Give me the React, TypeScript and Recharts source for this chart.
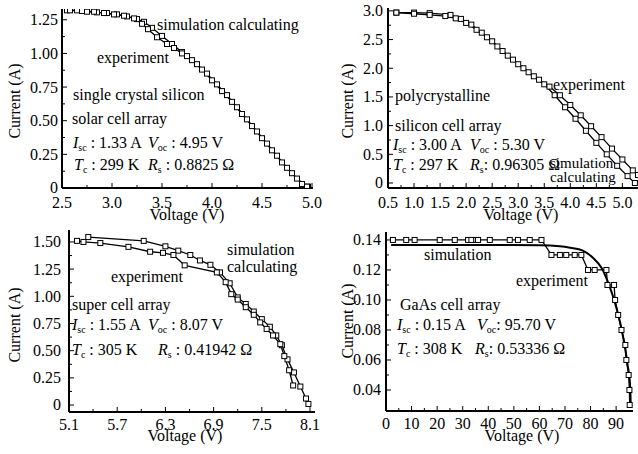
import React from "react";
import { LineChart, Line, XAxis, YAxis } from "recharts";

// single crystal silicon
const monoSimV = [2.55, 2.65, 2.75, 2.85, 2.95, 3.05, 3.15, 3.25, 3.32, 3.4, 3.5, 3.6, 3.7, 3.8, 3.9, 4.0, 4.1, 4.2, 4.3, 4.4, 4.5, 4.6, 4.7, 4.8, 4.9, 4.96];
const monoSimI = [1.32, 1.32, 1.31, 1.305, 1.3, 1.29, 1.275, 1.255, 1.235, 1.19, 1.13, 1.07, 1.01, 0.95, 0.88, 0.8, 0.72, 0.64, 0.55, 0.46, 0.37, 0.28, 0.19, 0.11, 0.03, 0.01];
const monoExpV = [2.58, 2.7, 2.82, 2.92, 3.02, 3.12, 3.22, 3.3, 3.36, 3.45, 3.55, 3.62, 3.7, 3.75, 3.85, 3.95, 4.05, 4.15, 4.25, 4.35, 4.45, 4.55, 4.65, 4.75, 4.85, 4.95];
const monoExpI = [1.32, 1.315, 1.31, 1.3, 1.29, 1.28, 1.26, 1.22, 1.18, 1.12, 1.07, 1.04, 1.0, 0.98, 0.92, 0.85, 0.77, 0.69, 0.6, 0.51, 0.42, 0.33, 0.24, 0.15, 0.07, 0.01];

// polycrystalline silicon
const polySimV = [0.66, 1.0, 1.3, 1.7, 1.9, 2.1, 2.3, 2.5, 2.7, 2.9, 3.1, 3.3, 3.5, 3.7, 3.9, 4.1, 4.3, 4.5, 4.7, 4.9, 5.1, 5.24];
const polySimI = [2.97, 2.97, 2.96, 2.93, 2.86, 2.76, 2.62, 2.47, 2.3, 2.15, 2.0, 1.86, 1.72, 1.53, 1.32, 1.12, 0.91, 0.7, 0.5, 0.3, 0.12, 0.0];
const polyExpV = [0.66, 1.0, 1.3, 1.6, 1.8, 2.0, 2.2, 2.4, 2.6, 2.8, 3.0, 3.2, 3.4, 3.6, 3.8, 4.0, 4.2, 4.4, 4.6, 4.8, 5.0, 5.2, 5.3];
const polyExpI = [2.97, 2.95, 2.93, 2.91, 2.87, 2.79, 2.67, 2.54, 2.38, 2.22, 2.07, 1.93, 1.8, 1.68, 1.53, 1.36, 1.18, 0.99, 0.8, 0.6, 0.41, 0.22, 0.14];

// super cell
const superSimV = [5.34, 6.03, 6.3, 6.46, 6.61, 6.73, 6.86, 6.98, 7.1, 7.2, 7.3, 7.4, 7.5, 7.6, 7.68, 7.75, 7.82, 7.9, 7.98, 8.05, 8.08];
const superSimI = [1.545, 1.51, 1.46, 1.42, 1.38, 1.33, 1.29, 1.22, 1.12, 0.99, 0.93, 0.86, 0.79, 0.72, 0.64, 0.55, 0.42, 0.3, 0.17, 0.06, 0.01];
const superExpV = [5.2, 5.28, 5.49, 5.84, 6.11, 6.27, 6.4, 6.54, 6.94, 7.05, 7.12, 7.2, 7.3, 7.4, 7.48, 7.56, 7.64, 7.73, 7.78, 7.84, 7.89];
const superExpI = [1.51, 1.5, 1.49, 1.455, 1.41, 1.4, 1.38, 1.285, 1.22, 1.13, 1.02, 0.97, 0.9, 0.83, 0.76, 0.7, 0.64, 0.56, 0.45, 0.32, 0.18];

// GaAs
const gaasSimV = [2, 20, 40, 60, 68, 72, 77, 81, 84.4, 87, 89.6, 92.2, 94.4, 95.5, 95.7];
const gaasSimI = [0.1367, 0.1367, 0.1367, 0.1365, 0.1358, 0.1348, 0.1329, 0.128, 0.1211, 0.111, 0.0978, 0.08, 0.0578, 0.042, 0.031];
const gaasExpV = [2.7, 7.9, 11.2, 21, 26.9, 32.1, 33.4, 35.3, 36, 40.6, 48.4, 51.6, 56.2, 60.8, 64.7, 68, 70.5, 73.8, 76.4, 79, 81.6, 86.2, 86.6, 89.2, 89.6, 90.8, 92.1, 93.6, 94, 94.9, 95.2, 95.3];
const gaasExpI = [0.14, 0.14, 0.14, 0.14, 0.14, 0.14, 0.14, 0.14, 0.14, 0.14, 0.14, 0.14, 0.14, 0.14, 0.13, 0.13, 0.13, 0.13, 0.13, 0.12, 0.12, 0.12, 0.11, 0.11, 0.1, 0.09, 0.08, 0.07, 0.06, 0.05, 0.04, 0.03];

// tick values and labels
const monoXTicks = [2.5, 3.0, 3.5, 4.0, 4.5, 5.0];
const monoXLabels = ["2.5", "3.0", "3.5", "4.0", "4.5", "5.0"];
const monoYTicks = [0, 0.25, 0.5, 0.75, 1.0, 1.25];
const monoYLabels = ["0", "0.25", "0.50", "0.75", "1.00", "1.25"];

const polyXTicks = [0.5, 1.0, 1.5, 2.0, 2.5, 3.0, 3.5, 4.0, 4.5, 5.0];
const polyXLabels = ["0.5", "1.0", "1.5", "2.0", "2.5", "3.0", "3.5", "4.0", "4.5", "5.0"];
const polyYTicks = [0, 0.5, 1.0, 1.5, 2.0, 2.5, 3.0];
const polyYLabels = ["0", "0.5", "1.0", "1.5", "2.0", "2.5", "3.0"];

const superXTicks = [5.1, 5.7, 6.3, 6.9, 7.5, 8.1];
const superXLabels = ["5.1", "5.7", "6.3", "6.9", "7.5", "8.1"];
const superYTicks = [0, 0.25, 0.5, 0.75, 1.0, 1.25, 1.5];
const superYLabels = ["0", "0.25", "0.50", "0.75", "1.00", "1.25", "1.50"];

const gaasXTicks = [0, 10, 20, 30, 40, 50, 60, 70, 80, 90];
const gaasXLabels = ["0", "10", "20", "30", "40", "50", "60", "70", "80", "90"];
const gaasYTicks = [0.04, 0.06, 0.08, 0.1, 0.12, 0.14];
const gaasYLabels = ["0.04", "0.06", "0.08", "0.10", "0.12", "0.14"];

const FONT = "'Liberation Serif', 'DejaVu Serif', serif";

type Pt = { v: number; i: number };
const zip = (vs: number[], is: number[]): Pt[] => vs.map((v, k) => ({ v, i: is[k] }));

// majors plus a minor tick half way between each pair
const withMinor = (majors: number[]) => {
    const out: number[] = [];
    majors.forEach((m, k) => {
        out.push(m);
        if (k < majors.length - 1) out.push(+((m + majors[k + 1]) / 2).toFixed(4));
    });
    return out;
};

const txt = { fontFamily: FONT };

function XTick(props: any) {
    const { x, y, payload, majors, labels, gap } = props;
    const idx = majors.indexOf(payload.value);
    const axisY = y - gap;
    const len = idx >= 0 ? 5 : 3;
    return (
        <g>
            <line x1={x} x2={x} y1={axisY} y2={axisY - len} stroke="#000" strokeWidth={1} />
            {idx >= 0 && (
                <text x={x} y={y} dy="0.72em" textAnchor="middle" style={txt} fontSize={16} fill="#000">
                    {labels[idx]}
                </text>
            )}
        </g>
    );
}

function YTick(props: any) {
    const { x, y, payload, majors, labels, gap } = props;
    const idx = majors.indexOf(payload.value);
    const axisX = x + gap;
    const len = idx >= 0 ? 5 : 3;
    return (
        <g>
            <line x1={axisX} x2={axisX + len} y1={y} y2={y} stroke="#000" strokeWidth={1} />
            {idx >= 0 && (
                <text x={x} y={y} dy="0.34em" textAnchor="end" style={txt} fontSize={16} fill="#000">
                    {labels[idx]}
                </text>
            )}
        </g>
    );
}

const squareDot = (p: any) => (
    <rect key={p.index} x={p.cx - 2.5} y={p.cy - 2.5} width={5} height={5} fill="#fff" stroke="#000" strokeWidth={1} />
);

interface Series {
    data: Pt[];
    dots: boolean;
    width?: number;
}

interface PanelProps {
    left: number;
    top: number;
    plot: [number, number, number, number]; // x0, y0, x1, y1 inside the panel
    xDomain: [number, number];
    yDomain: [number, number];
    xTicks: number[];
    xLabels: string[];
    yTicks: number[];
    yLabels: string[];
    xGap: number;
    yGap: number;
    series: Series[];
}

const W = 320;
const H = 227;

function Panel({ left, top, plot, xDomain, yDomain, xTicks, xLabels, yTicks, yLabels, xGap, yGap, series }: PanelProps) {
    const [x0, y0, x1, y1] = plot;
    const xAll = withMinor(xTicks).filter((t) => t <= xDomain[1]);
    const yAll = withMinor(yTicks).filter((t) => t <= yDomain[1]);
    return (
        <div style={{ position: "absolute", left, top, width: W, height: H }}>
            <LineChart width={W} height={H} margin={{ top: y0, right: W - x1, left: 0, bottom: 0 }}>
                <XAxis
                    type="number"
                    dataKey="v"
                    domain={xDomain}
                    ticks={xAll}
                    interval={0}
                    allowDataOverflow
                    height={H - y1}
                    tickSize={0}
                    tickMargin={xGap}
                    axisLine={{ stroke: "#000", strokeWidth: 2 }}
                    tick={<XTick majors={xTicks} labels={xLabels} gap={xGap} />}
                />
                <YAxis
                    type="number"
                    dataKey="i"
                    domain={yDomain}
                    ticks={yAll}
                    interval={0}
                    allowDataOverflow
                    width={x0}
                    tickSize={0}
                    tickMargin={yGap}
                    axisLine={{ stroke: "#000", strokeWidth: 2 }}
                    tick={<YTick majors={yTicks} labels={yLabels} gap={yGap} />}
                />
                {series.map((s, k) => (
                    <Line
                        key={k}
                        data={s.data}
                        dataKey="i"
                        type={s.dots ? "linear" : "monotone"}
                        stroke="#000"
                        strokeWidth={s.width ?? 1.3}
                        dot={s.dots ? squareDot : false}
                        activeDot={false}
                        isAnimationActive={false}
                    />
                ))}
            </LineChart>
        </div>
    );
}

// a symbol with subscript, e.g. Isc, then its value; the second pair starts at x2
function Params(props: { x: number; x2: number; y: number; a: string; b: string; c: string; d: string }) {
    const { x, x2, y, a, b, c, d } = props;
    return (
        <text y={y} fontSize={16} style={{ ...txt, whiteSpace: "pre" }}>
            <tspan x={x} fontStyle="italic">{a[0]}</tspan>
            <tspan fontSize={10} dy={3}>{a.slice(1)}</tspan>
            <tspan dy={-3}>{b}</tspan>
            <tspan x={x2} fontStyle="italic">{c[0]}</tspan>
            <tspan fontSize={10} dy={3}>{c.slice(1)}</tspan>
            <tspan dy={-3}>{d}</tspan>
        </text>
    );
}

function Note({ x, y, size = 16, children }: { x: number; y: number; size?: number; children: React.ReactNode }) {
    return (
        <text x={x} y={y} fontSize={size} style={txt}>
            {children}
        </text>
    );
}

function YTitle({ x, y }: { x: number; y: number }) {
    return (
        <text transform={`translate(${x},${y}) rotate(-90)`} textAnchor="middle" fontSize={16} style={txt}>
            Current (A)
        </text>
    );
}

function XTitle({ x, y }: { x: number; y: number }) {
    return (
        <text x={x} y={y} textAnchor="middle" fontSize={16} style={txt}>
            Voltage (V)
        </text>
    );
}

export default function App() {
    return (
        <div style={{ position: "absolute", left: 0, top: 0, width: 638, height: 454, background: "#fff", fontFamily: FONT }}>
            <style>{`.recharts-surface{overflow:visible}`}</style>
            <Panel
                left={0}
                top={0}
                plot={[62, 9, 313, 188]}
                xDomain={[2.5, 5.01]}
                yDomain={[0, 1.33]}
                xTicks={monoXTicks}
                xLabels={monoXLabels}
                yTicks={monoYTicks}
                yLabels={monoYLabels}
                xGap={8}
                yGap={4}
                series={[
                    { data: zip(monoSimV, monoSimI), dots: true },
                    { data: zip(monoExpV, monoExpI), dots: true },
                ]}
            />
            <Panel
                left={318}
                top={0}
                plot={[70, 8, 320, 188]}
                xDomain={[0.5, 5.3]}
                yDomain={[-0.087, 3.05]}
                xTicks={polyXTicks}
                xLabels={polyXLabels}
                yTicks={polyYTicks}
                yLabels={polyYLabels}
                xGap={8}
                yGap={5}
                series={[
                    { data: zip(polySimV, polySimI), dots: true },
                    { data: zip(polyExpV, polyExpI), dots: true },
                ]}
            />
            <Panel
                left={0}
                top={227}
                plot={[69, 3, 315, 185]}
                xDomain={[5.1, 8.162]}
                yDomain={[-0.064, 1.61]}
                xTicks={superXTicks}
                xLabels={superXLabels}
                yTicks={superYTicks}
                yLabels={superYLabels}
                xGap={6}
                yGap={8}
                series={[
                    { data: zip(superSimV, superSimI), dots: true },
                    { data: zip(superExpV, superExpI), dots: true },
                ]}
            />
            <Panel
                left={318}
                top={227}
                plot={[68, 5, 315, 184]}
                xDomain={[0, 96.6]}
                yDomain={[0.026, 0.1453]}
                xTicks={gaasXTicks}
                xLabels={gaasXLabels}
                yTicks={gaasYTicks}
                yLabels={gaasYLabels}
                xGap={6}
                yGap={5}
                series={[
                    { data: zip(gaasSimV, gaasSimI), dots: false, width: 2 },
                    { data: zip(gaasExpV, gaasExpI), dots: true },
                ]}
            />
            <svg
                width={638}
                height={454}
                style={{ position: "absolute", left: 0, top: 0, pointerEvents: "none" }}
                fill="#000"
            >
                <YTitle x={20} y={101} />
                <YTitle x={353} y={101} />
                <YTitle x={20} y={325} />
                <YTitle x={353} y={321} />
                <XTitle x={187} y={220} />
                <XTitle x={521} y={220} />
                <XTitle x={185} y={441} />
                <XTitle x={522} y={441} />

                <Note x={157} y={30}>simulation calculating</Note>
                <Note x={97} y={63}>experiment</Note>
                <Note x={73} y={100}>single crystal silicon</Note>
                <Note x={72} y={124}>solar cell array</Note>
                <Params x={73} x2={148} y={148} a="Isc" b=" : 1.33 A" c="Voc" d=" : 4.95 V" />
                <Params x={74} x2={148} y={170} a="Tc" b=" : 299 K" c="Rs" d=" : 0.8825 Ω" />

                <Note x={553} y={90}>experiment</Note>
                <Note x={395} y={101}>polycrystalline</Note>
                <Note x={395} y={131}>silicon cell array</Note>
                <Params x={393} x2={470} y={150} a="Isc" b=" : 3.00 A" c="Voc" d=" : 5.30 V" />
                <Params x={393} x2={470} y={170} a="Tc" b=" : 297 K" c="Rs" d=": 0.96305 Ω" />
                <Note x={550} y={168} size={15}>simulation</Note>
                <Note x={550} y={182} size={15}>calculating</Note>

                <Note x={227} y={255}>simulation</Note>
                <Note x={227} y={272}>calculating</Note>
                <Note x={111} y={282}>experiment</Note>
                <Note x={72} y={310}>super cell array</Note>
                <Params x={72} x2={148} y={330} a="Isc" b=" : 1.55 A" c="Voc" d=" : 8.07 V" />
                <Params x={72} x2={158} y={355} a="Tc" b=" : 305 K" c="Rs" d=" : 0.41942 Ω" />

                <Note x={424} y={260}>simulation</Note>
                <Note x={516} y={286}>experiment</Note>
                <Note x={400} y={310}>GaAs cell array</Note>
                <Params x={397} x2={477} y={330} a="Isc" b=" : 0.15 A" c="Voc" d=": 95.70 V" />
                <Params x={397} x2={475} y={354} a="Tc" b=" : 308 K" c="Rs" d=": 0.53336 Ω" />
            </svg>
        </div>
    );
}
